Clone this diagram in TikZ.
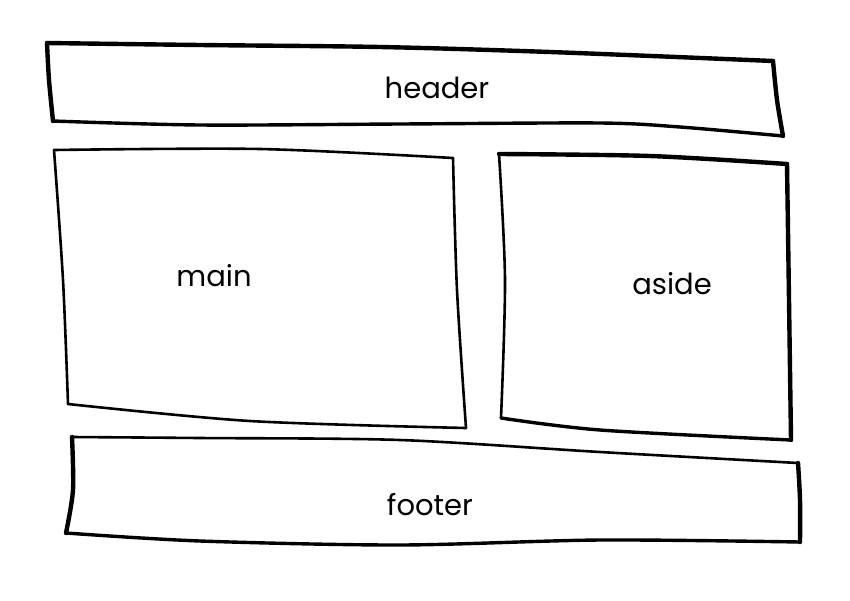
\documentclass[tikz,border=0pt]{standalone}
\usepackage{fontspec}
\setmainfont{Poppins}
\begin{document}
\begin{tikzpicture}[x=1pt,y=-1pt,
  sketch/.style={draw=black,line width=2.6pt,line join=round,line cap=round},
  medium/.style={draw=black,line width=3.4pt,line join=round,line cap=round},
  heavy/.style={draw=black,line width=4.4pt,line join=round,line cap=round},
  lbl/.style={font=\fontsize{29}{34}\selectfont,text=black,inner sep=0pt}]
\useasboundingbox[fill=white] (0,0) rectangle (850,600);
% header
\draw[heavy] plot[smooth,tension=0.5] coordinates {(47,43) (200,45) (380,47) (550,52) (773,61)};
\draw[heavy] plot[smooth,tension=0.5] coordinates {(773,61) (777,100) (783,136)};
\draw[medium] plot[smooth,tension=0.5] coordinates {(783,136) (680,127) (600,123) (400,124) (200,125) (53,121)};
\draw[heavy] plot[smooth,tension=0.5] coordinates {(53,121) (49,80) (47,43)};
% main
\draw[sketch] plot[smooth,tension=0.5] coordinates {(54,150) (260,149) (453,158)};
\draw[sketch] plot[smooth,tension=0.5] coordinates {(453,158) (457,290) (466,428)};
\draw[sketch] plot[smooth,tension=0.5] coordinates {(466,428) (250,421) (68,404)};
\draw[sketch] plot[smooth,tension=0.5] coordinates {(68,404) (63,280) (54,150)};
% aside
\draw[heavy] plot[smooth,tension=0.5] coordinates {(499,154) (650,156) (787,164)};
\draw[heavy] plot[smooth,tension=0.5] coordinates {(787,164) (789,300) (791,440)};
\draw[medium] plot[smooth,tension=0.5] coordinates {(791,440) (600,430) (501,418)};
\draw[sketch] plot[smooth,tension=0.5] coordinates {(501,418) (505,280) (499,154)};
% footer
\draw[sketch] plot[smooth,tension=0.5] coordinates {(72,437) (200,438) (400,440) (600,452) (798,463)};
\draw[heavy] plot[smooth,tension=0.5] coordinates {(798,463) (800,500) (800,542)};
\draw[medium] plot[smooth,tension=0.5] coordinates {(800,542) (600,540) (400,545) (200,541) (66,533)};
\draw[heavy] plot[smooth,tension=0.5] coordinates {(66,533) (73,490) (72,437)};
% labels
\node[lbl] (header) at (437,88) {header};
\node[lbl] (main) at (214,276) {main};
\node[lbl] (aside) at (672,284) {aside};
\node[lbl] (footer) at (430,505) {footer};
\end{tikzpicture}
\end{document}
